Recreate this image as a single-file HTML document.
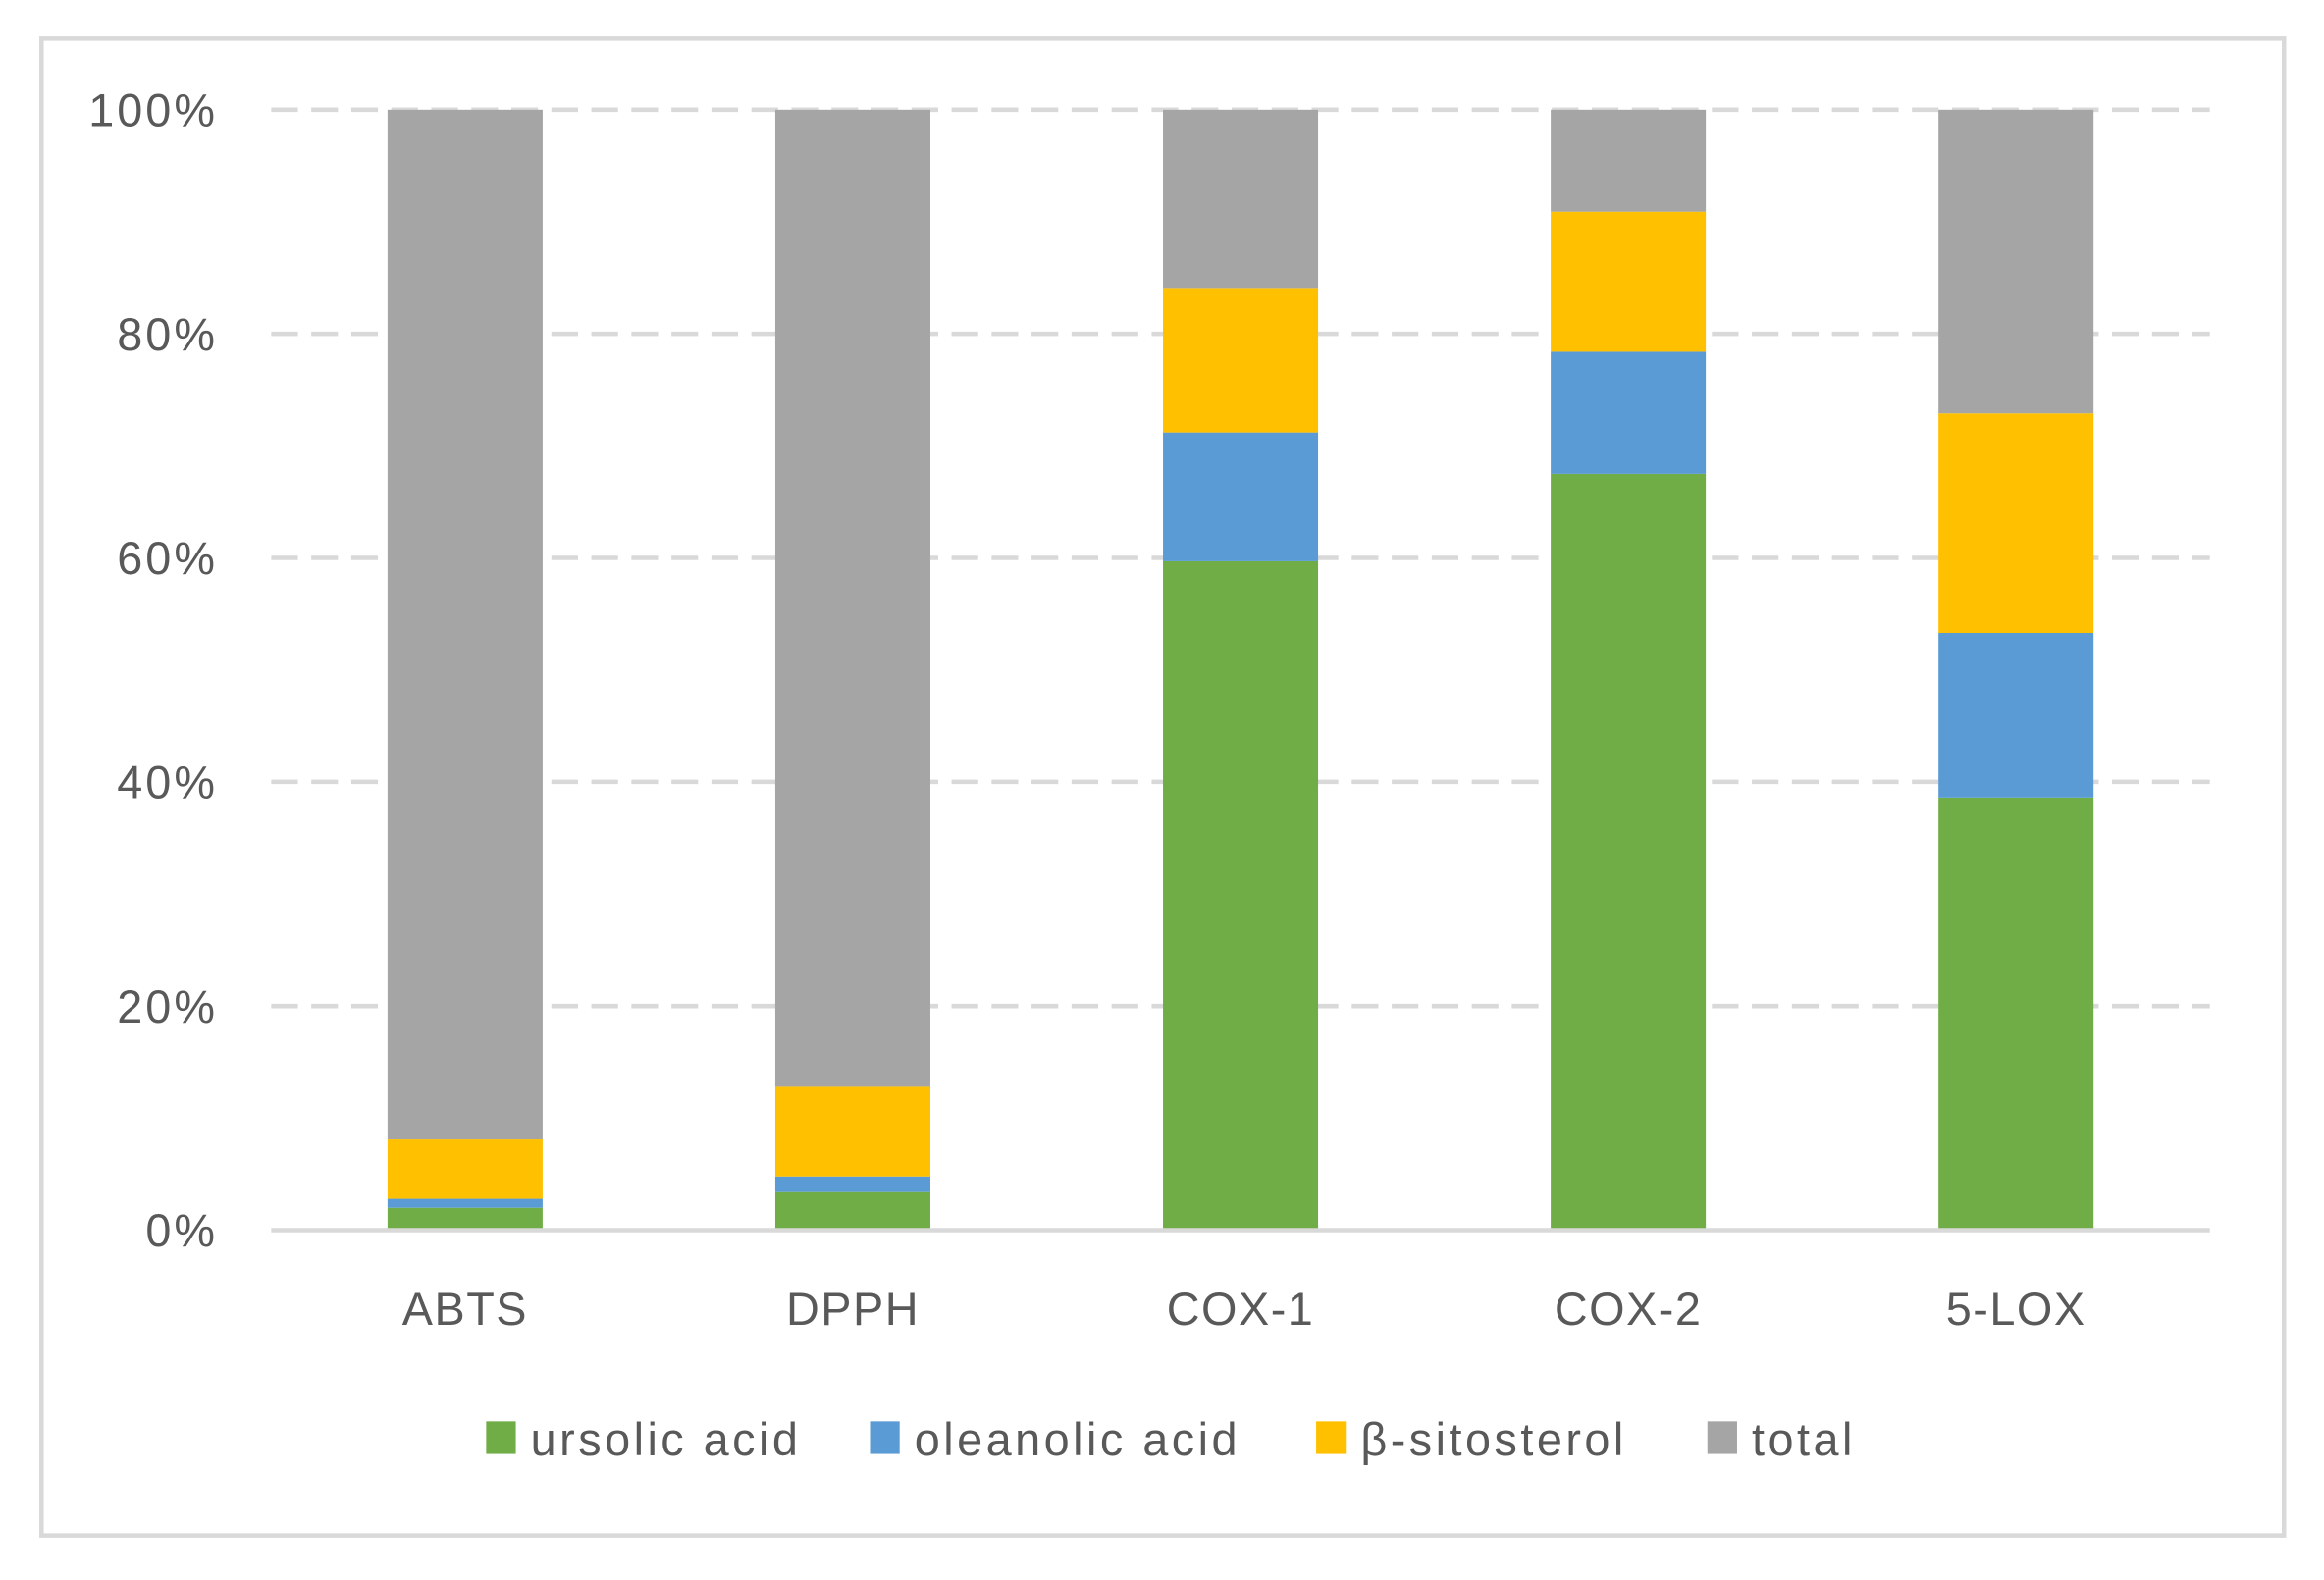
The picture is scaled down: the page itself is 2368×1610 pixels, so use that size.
<!DOCTYPE html>
<html><head><meta charset="utf-8"><style>
html,body{margin:0;padding:0;background:#fff;}
svg{display:block;}
text{font-family:"Liberation Sans",sans-serif;fill:#595959;}
</style></head><body>
<svg id="chart" width="2368" height="1610" viewBox="0 0 1568 1066">
<rect x="28" y="26" width="1513" height="1010" fill="#fff" stroke="#d9d9d9" stroke-width="3"/>
<g id="grid"></g><g id="bars"></g><g id="axes"></g><g id="legend"></g>
</svg>
<script>
const categories=["ABTS","DPPH","COX-1","COX-2","5-LOX"];
const seriesNames=["ursolic acid","oleanolic acid","β-sitosterol","total"];
const ursolic=[2.0,3.4,59.7,67.5,38.6];
const oleanolic=[0.8,1.4,11.5,10.9,14.7];
const sitosterol=[5.3,8.0,12.9,12.5,19.6];
const total=[91.9,87.2,15.9,9.1,27.1];
const yTicks=[0,20,40,60,80,100];
const yTickLabels=["0%","20%","40%","60%","80%","100%"];
const colors=["#70ad47","#5b9bd5","#ffc000","#a5a5a5"];
const NS="http://www.w3.org/2000/svg";
const X0=183,X1=1491,Y0=830,Y1=74;
const y=v=>Y0-(v/100)*(Y0-Y1);
const band=(X1-X0)/categories.length;
const xc=i=>X0+band*(i+0.5);
const bw=band*0.4;
function mk(tag,attrs,parent){const e=document.createElementNS(NS,tag);for(const k in attrs)e.setAttribute(k,attrs[k]);parent.appendChild(e);return e;}
const grid=document.getElementById('grid'),bars=document.getElementById('bars'),axes=document.getElementById('axes'),legend=document.getElementById('legend');
yTicks.forEach((t,i)=>{
  if(t>0){const l=mk('line',{x1:X0,x2:X1,y1:y(t),y2:y(t),stroke:'#d9d9d9','stroke-width':3,'stroke-dasharray':'18,9'},grid);
  
  }
  const tx=mk('text',{x:147,y:y(t)+11,'text-anchor':'end','font-size':31,'letter-spacing':2},axes);tx.textContent=yTickLabels[i];
  
  
});
const series=[ursolic,oleanolic,sitosterol,total];
categories.forEach((c,i)=>{
  let acc=0;
  series.forEach((s,k)=>{
    const r=mk('rect',{x:xc(i)-bw/2,y:y(acc+s[i]),width:bw,height:y(acc)-y(acc+s[i]),fill:colors[k]},bars);
    
    
    acc+=s[i];
  });
  const tx=mk('text',{x:xc(i),y:894,'text-anchor':'middle','font-size':31,'letter-spacing':1},axes);tx.textContent=c;
  
  
});
const ax=mk('line',{x1:X0,x2:X1,y1:Y0,y2:Y0,stroke:'#d9d9d9','stroke-width':3},axes);


const lx=[328,587,888,1152];
seriesNames.forEach((n,k)=>{
  const g=mk('g',{},legend);
  
  
  mk('rect',{x:lx[k],y:959,width:20,height:22,fill:colors[k]},g);
  const t=mk('text',{x:lx[k]+30,y:982,'font-size':31,'letter-spacing':2.3},g);t.textContent=n;
});
</script>
</body></html>
